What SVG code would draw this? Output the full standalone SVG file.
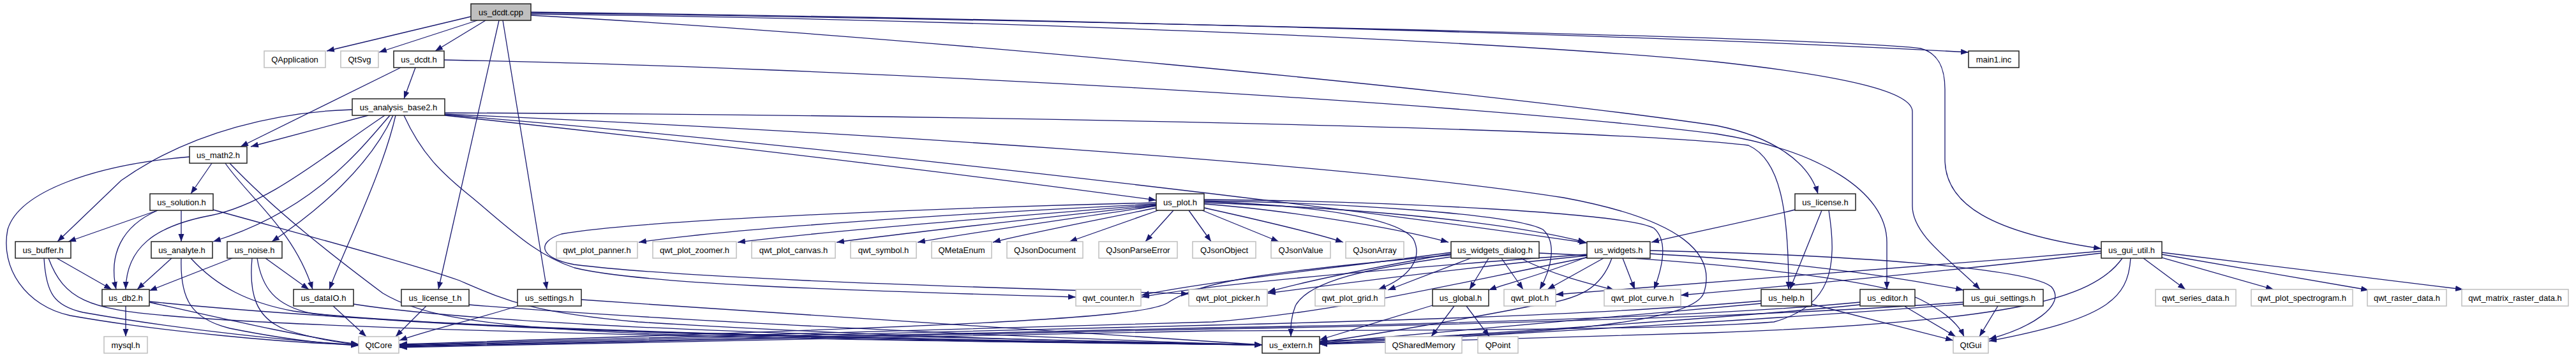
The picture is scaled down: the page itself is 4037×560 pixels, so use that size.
<svg xmlns="http://www.w3.org/2000/svg" width="4037" height="560" viewBox="0 0 4037 560">
<defs>
<marker id="a" markerWidth="13" markerHeight="10" refX="12" refY="4.5" orient="auto" markerUnits="userSpaceOnUse"><path d="M0,0 L12,4.5 L0,9 z" fill="#191970"/></marker>
<style>
.e path{fill:none;stroke:#191970;stroke-width:1.3;marker-end:url(#a)}
.n rect{fill:#fff;stroke:#222;stroke-width:1.5}
.x rect{fill:#fff;stroke:#bfbfbf;stroke-width:1.5}
text{font-family:"Liberation Sans",Arial,Helvetica,sans-serif;font-size:13px;text-anchor:middle;fill:#000}
</style>
</defs>
<rect width="4037" height="560" fill="#fff"/>
<g id="edges" class="e">
<path d="M738,26 L512,80"/>
<path d="M748,32 L594,82"/>
<path d="M761,32 L682,80"/>
<path d="M832,19 C1600,28 2600,55 3085,82"/>
<path d="M832,20 C1700,32 2900,60 3010,76 C3040,84 3048,110 3048,140 L3048,250 C3048,320 3120,365 3293,390"/>
<path d="M832,22 C1500,30 2300,60 2690,97 C2900,120 2997,145 2997,175 L2997,323 C2997,370 3060,410 3103,454"/>
<path d="M832,24 C1400,55 2300,140 2690,197 C2780,215 2835,255 2849,304"/>
<path d="M782,32 L687,454"/>
<path d="M788,32 L857,454"/>
<path d="M651,106 L633,155"/>
<path d="M628,106 L377,230"/>
<path d="M696,94 C1300,105 2300,160 2690,210 C2850,235 2957,300 2957,380 L2957,454"/>
<path d="M577,181 L393,230"/>
<path d="M552,172 C440,175 300,205 190,283 L90,379"/>
<path d="M603,181 C500,250 420,320 330,338 C240,355 198,390 197,454"/>
<path d="M611,181 C560,240 490,330 334,379"/>
<path d="M616,181 C580,260 500,330 426,379"/>
<path d="M620,181 C600,270 540,390 516,454"/>
<path d="M633,181 C660,240 690,270 740,310 C800,360 840,400 900,420 C1000,445 1300,455 1686,466"/>
<path d="M697,177 C1500,180 2500,200 2740,228 C2790,250 2803,330 2803,454"/>
<path d="M697,179 C1300,205 2100,255 2450,310 C2640,345 2690,400 2670,460 C2650,510 2400,525 2068,535"/>
<path d="M697,180 C1200,220 2000,310 2487,381"/>
<path d="M697,181 C1200,235 1600,285 1812,314"/>
<path d="M332,256 L299,304"/>
<path d="M353,256 C390,310 460,360 490,454"/>
<path d="M360,256 C430,330 520,400 600,460 C700,520 900,530 1978,541"/>
<path d="M297,246 C150,258 30,300 12,360 C0,420 40,480 110,495 C250,520 450,538 562,541"/>
<path d="M247,330 L107,379"/>
<path d="M284,330 L284,379"/>
<path d="M247,330 C190,355 170,400 182,454"/>
<path d="M334,329 C500,375 650,415 720,440 C790,470 830,490 1000,505 C1400,530 1800,538 1978,541"/>
<path d="M89,405 L175,454"/>
<path d="M69,405 C72,460 85,480 130,490 C300,520 470,536 562,541"/>
<path d="M76,405 C100,470 140,485 260,495 C600,525 1700,538 1978,541"/>
<path d="M269,405 L215,454"/>
<path d="M284,405 C282,470 300,500 360,515 C450,533 520,540 562,542"/>
<path d="M299,405 C340,450 390,475 460,488 C700,520 1700,538 1978,541"/>
<path d="M364,405 L234,456"/>
<path d="M416,405 L484,454"/>
<path d="M395,405 C390,460 400,500 450,518 C490,530 530,538 562,540"/>
<path d="M403,405 C410,450 430,480 490,492 C800,525 1700,538 1978,541"/>
<path d="M197,480 L197,528"/>
<path d="M234,474 C350,500 480,530 562,540"/>
<path d="M234,473 C400,490 700,510 1000,520 C1400,532 1800,538 1978,541"/>
<path d="M522,480 L574,528"/>
<path d="M554,477 C700,500 1000,515 1300,525 C1600,533 1850,539 1978,541"/>
<path d="M668,480 L620,528"/>
<path d="M735,478 C1000,500 1600,530 1978,541"/>
<path d="M811,480 C750,500 680,515 626,534"/>
<path d="M911,470 C1300,497 1700,525 1978,541"/>
<path d="M1812,320 C1500,335 1150,358 1001,380"/>
<path d="M1812,318 C1500,325 1000,345 880,367 C840,380 845,405 900,415 C1100,440 1600,452 1863,461"/>
<path d="M1812,321 C1600,338 1300,362 1156,380"/>
<path d="M1812,322 C1650,340 1420,365 1311,380"/>
<path d="M1812,323 C1700,340 1520,365 1438,380"/>
<path d="M1812,326 C1720,345 1600,368 1556,380"/>
<path d="M1815,330 L1676,379"/>
<path d="M1839,330 L1795,379"/>
<path d="M1863,330 L1898,379"/>
<path d="M1884,330 L2004,379"/>
<path d="M1887,326 C1950,340 2050,362 2105,380"/>
<path d="M1887,320 C2000,328 2180,355 2270,380"/>
<path d="M1887,318 C2100,325 2350,345 2485,380"/>
<path d="M1887,316 C2050,322 2190,340 2215,375 C2230,405 2210,435 2160,454"/>
<path d="M1887,315 C2100,318 2370,335 2418,360 C2440,380 2432,420 2413,454"/>
<path d="M1887,313 C2200,316 2550,335 2592,358 C2615,378 2605,420 2592,454"/>
<path d="M2543,405 L2562,454"/>
<path d="M2513,405 L2425,454"/>
<path d="M2487,403 C2420,430 2360,445 2333,455"/>
<path d="M2305,405 L2175,455"/>
<path d="M2333,405 L2303,454"/>
<path d="M2353,405 L2387,454"/>
<path d="M2383,405 C2430,430 2490,445 2530,455"/>
<path d="M2274,396 C2100,420 1900,440 1789,463"/>
<path d="M2274,398 C2150,420 2050,440 1987,458"/>
<path d="M2274,403 C2150,420 2050,440 2030,480 C2022,500 2023,515 2023,528"/>
<path d="M2274,400 C2000,425 1880,440 1830,475 C1790,500 1500,512 626,540"/>
<path d="M2412,397 C2700,410 2950,440 3010,470 C3050,490 3070,510 3078,528"/>
<path d="M2487,399 C2200,420 1900,445 1789,466"/>
<path d="M2487,401 C2300,420 2100,445 1987,460"/>
<path d="M2526,405 C2510,450 2480,470 2400,480 C2300,500 2150,525 2068,537"/>
<path d="M2487,404 C2300,440 2100,490 1900,505 C1400,520 900,532 626,541"/>
<path d="M2586,393 C2900,400 3180,420 3215,450 C3240,480 3180,515 3117,532"/>
<path d="M2586,398 C2800,410 2950,430 3077,455"/>
<path d="M2279,480 L2243,528"/>
<path d="M2298,480 L2334,528"/>
<path d="M2245,479 L2068,533"/>
<path d="M2839,477 L3061,534"/>
<path d="M2760,476 C2500,500 2200,525 2068,538"/>
<path d="M2760,472 C2500,495 2100,505 1900,510 C1400,522 900,534 626,542"/>
<path d="M2984,480 L3065,528"/>
<path d="M2915,478 C2700,500 2300,525 2068,539"/>
<path d="M2915,474 C2700,495 2300,508 1900,514 C1400,525 900,535 626,543"/>
<path d="M3131,480 L3102,528"/>
<path d="M3077,477 C2800,500 2300,528 2068,540"/>
<path d="M3077,474 C2800,495 2300,510 1900,516 C1400,527 900,536 626,544"/>
<path d="M2813,329 C2750,345 2650,365 2588,380"/>
<path d="M2855,330 L2805,454"/>
<path d="M2866,330 C2880,420 2870,480 2780,505 C2600,520 2000,518 1900,519 C1400,530 900,537 626,545"/>
<path d="M3359,405 L3425,454"/>
<path d="M3388,404 L3563,454"/>
<path d="M3388,399 L3712,455"/>
<path d="M3388,396 L3860,454"/>
<path d="M3293,394 C3000,420 2700,440 2438,462"/>
<path d="M3293,397 C3100,420 2900,440 2634,463"/>
<path d="M3339,405 C3335,470 3300,500 3117,535"/>
<path d="M3326,405 C3280,470 3150,505 2680,522 C2400,530 2200,535 2068,540"/>
</g>
<g id="n_us_dcdt_cpp" class="n"><rect x="738" y="6" width="94" height="26" style="fill:#bfbfbf"/><text x="785" y="23.5">us_dcdt.cpp</text></g>
<g id="n_QApplication" class="x"><rect x="414" y="80" width="96" height="26"/><text x="462" y="97.5">QApplication</text></g>
<g id="n_QtSvg" class="x"><rect x="534" y="80" width="59" height="26"/><text x="563.5" y="97.5">QtSvg</text></g>
<g id="n_us_dcdt_h" class="n"><rect x="617" y="80" width="79" height="26"/><text x="656.5" y="97.5">us_dcdt.h</text></g>
<g id="n_main1_inc" class="n"><rect x="3085" y="80" width="79" height="26"/><text x="3124.5" y="97.5">main1.inc</text></g>
<g id="n_us_analysis_base2_h" class="n"><rect x="552" y="155" width="145" height="26"/><text x="624.5" y="172.5">us_analysis_base2.h</text></g>
<g id="n_us_math2_h" class="n"><rect x="297" y="230" width="90" height="26"/><text x="342" y="247.5">us_math2.h</text></g>
<g id="n_us_solution_h" class="n"><rect x="235" y="304" width="99" height="26"/><text x="284.5" y="321.5">us_solution.h</text></g>
<g id="n_us_plot_h" class="n"><rect x="1812" y="304" width="75" height="26"/><text x="1849.5" y="321.5">us_plot.h</text></g>
<g id="n_us_license_h" class="n"><rect x="2813" y="304" width="95" height="26"/><text x="2860.5" y="321.5">us_license.h</text></g>
<g id="n_us_buffer_h" class="n"><rect x="24" y="379" width="87" height="26"/><text x="67.5" y="396.5">us_buffer.h</text></g>
<g id="n_us_analyte_h" class="n"><rect x="237" y="379" width="96" height="26"/><text x="285" y="396.5">us_analyte.h</text></g>
<g id="n_us_noise_h" class="n"><rect x="356" y="379" width="86" height="26"/><text x="399" y="396.5">us_noise.h</text></g>
<g id="n_qwt_plot_panner_h" class="x"><rect x="872" y="379" width="127" height="26"/><text x="935.5" y="396.5">qwt_plot_panner.h</text></g>
<g id="n_qwt_plot_zoomer_h" class="x"><rect x="1023" y="379" width="131" height="26"/><text x="1088.5" y="396.5">qwt_plot_zoomer.h</text></g>
<g id="n_qwt_plot_canvas_h" class="x"><rect x="1178" y="379" width="131" height="26"/><text x="1243.5" y="396.5">qwt_plot_canvas.h</text></g>
<g id="n_qwt_symbol_h" class="x"><rect x="1333" y="379" width="103" height="26"/><text x="1384.5" y="396.5">qwt_symbol.h</text></g>
<g id="n_QMetaEnum" class="x"><rect x="1460" y="379" width="94" height="26"/><text x="1507" y="396.5">QMetaEnum</text></g>
<g id="n_QJsonDocument" class="x"><rect x="1578" y="379" width="119" height="26"/><text x="1637.5" y="396.5">QJsonDocument</text></g>
<g id="n_QJsonParseError" class="x"><rect x="1722" y="379" width="123" height="26"/><text x="1783.5" y="396.5">QJsonParseError</text></g>
<g id="n_QJsonObject" class="x"><rect x="1869" y="379" width="99" height="26"/><text x="1918.5" y="396.5">QJsonObject</text></g>
<g id="n_QJsonValue" class="x"><rect x="1992" y="379" width="93" height="26"/><text x="2038.5" y="396.5">QJsonValue</text></g>
<g id="n_QJsonArray" class="x"><rect x="2109" y="379" width="91" height="26"/><text x="2154.5" y="396.5">QJsonArray</text></g>
<g id="n_us_widgets_dialog_h" class="n"><rect x="2274" y="379" width="138" height="26"/><text x="2343" y="396.5">us_widgets_dialog.h</text></g>
<g id="n_us_widgets_h" class="n"><rect x="2487" y="379" width="99" height="26"/><text x="2536.5" y="396.5">us_widgets.h</text></g>
<g id="n_us_gui_util_h" class="n"><rect x="3293" y="379" width="95" height="26"/><text x="3340.5" y="396.5">us_gui_util.h</text></g>
<g id="n_us_db2_h" class="n"><rect x="160" y="454" width="74" height="26"/><text x="197" y="471.5">us_db2.h</text></g>
<g id="n_us_dataIO_h" class="n"><rect x="460" y="454" width="94" height="26"/><text x="507" y="471.5">us_dataIO.h</text></g>
<g id="n_us_license_t_h" class="n"><rect x="629" y="454" width="106" height="26"/><text x="682" y="471.5">us_license_t.h</text></g>
<g id="n_us_settings_h" class="n"><rect x="811" y="454" width="100" height="26"/><text x="861" y="471.5">us_settings.h</text></g>
<g id="n_qwt_counter_h" class="x"><rect x="1686" y="454" width="102" height="26"/><text x="1737" y="471.5">qwt_counter.h</text></g>
<g id="n_qwt_plot_picker_h" class="x"><rect x="1863" y="454" width="123" height="26"/><text x="1924.5" y="471.5">qwt_plot_picker.h</text></g>
<g id="n_qwt_plot_grid_h" class="x"><rect x="2061" y="454" width="109" height="26"/><text x="2115.5" y="471.5">qwt_plot_grid.h</text></g>
<g id="n_us_global_h" class="n"><rect x="2245" y="454" width="88" height="26"/><text x="2289" y="471.5">us_global.h</text></g>
<g id="n_qwt_plot_h" class="x"><rect x="2357" y="454" width="81" height="26"/><text x="2397.5" y="471.5">qwt_plot.h</text></g>
<g id="n_qwt_plot_curve_h" class="x"><rect x="2514" y="454" width="120" height="26"/><text x="2574" y="471.5">qwt_plot_curve.h</text></g>
<g id="n_us_help_h" class="n"><rect x="2760" y="454" width="79" height="26"/><text x="2799.5" y="471.5">us_help.h</text></g>
<g id="n_us_editor_h" class="n"><rect x="2915" y="454" width="86" height="26"/><text x="2958" y="471.5">us_editor.h</text></g>
<g id="n_us_gui_settings_h" class="n"><rect x="3077" y="454" width="125" height="26"/><text x="3139.5" y="471.5">us_gui_settings.h</text></g>
<g id="n_qwt_series_data_h" class="x"><rect x="3378" y="454" width="126" height="26"/><text x="3441" y="471.5">qwt_series_data.h</text></g>
<g id="n_qwt_plot_spectrogram_h" class="x"><rect x="3528" y="454" width="159" height="26"/><text x="3607.5" y="471.5">qwt_plot_spectrogram.h</text></g>
<g id="n_qwt_raster_data_h" class="x"><rect x="3710" y="454" width="124" height="26"/><text x="3772" y="471.5">qwt_raster_data.h</text></g>
<g id="n_qwt_matrix_raster_data_h" class="x"><rect x="3858" y="454" width="167" height="26"/><text x="3941.5" y="471.5">qwt_matrix_raster_data.h</text></g>
<g id="n_mysql_h" class="x"><rect x="163" y="528" width="68" height="26"/><text x="197" y="545.5">mysql.h</text></g>
<g id="n_QtCore" class="x"><rect x="562" y="528" width="63" height="26"/><text x="593.5" y="545.5">QtCore</text></g>
<g id="n_us_extern_h" class="n"><rect x="1978" y="528" width="90" height="26"/><text x="2023" y="545.5">us_extern.h</text></g>
<g id="n_QSharedMemory" class="x"><rect x="2171" y="528" width="120" height="26"/><text x="2231" y="545.5">QSharedMemory</text></g>
<g id="n_QPoint" class="x"><rect x="2316" y="528" width="63" height="26"/><text x="2347.5" y="545.5">QPoint</text></g>
<g id="n_QtGui" class="x"><rect x="3061" y="528" width="55" height="26"/><text x="3088.5" y="545.5">QtGui</text></g>
</svg>
